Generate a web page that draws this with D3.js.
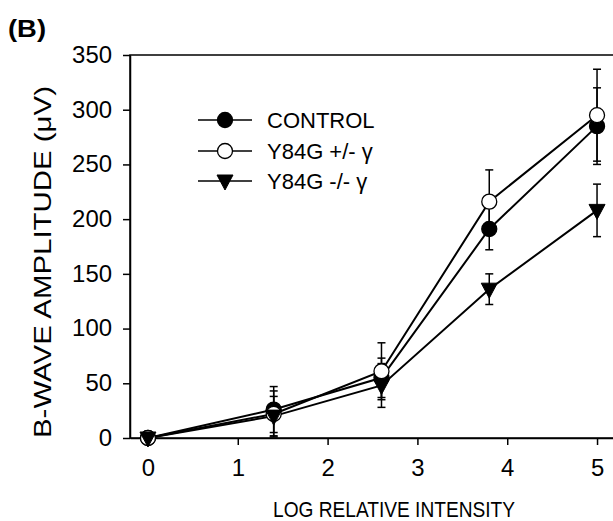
<!DOCTYPE html>
<html>
  <head>
    <meta charset="utf-8">
    <title>B-wave amplitude</title>
    <script src="https://cdn.jsdelivr.net/npm/d3@7"></script>
    <style>
      body { margin: 0; background: #fff; }
      svg { font-family: "Liberation Sans", Arial, sans-serif; }
      .axis path, .axis line { stroke: #000; stroke-width: 1.5; }
      .axis text { font-size: 23px; fill: #000; font-family: "Liberation Sans", Arial, sans-serif; }
    </style>
  </head>

  <body>
    <svg id="chart" width="613" height="521"></svg>

    <script>
      // data
      intensities = [0, 1.4, 2.6, 3.8, 5];
      xTicks = [0, 1, 2, 3, 4, 5];
      yTicks = [0, 50, 100, 150, 200, 250, 300, 350];

      controlValues = [0, 26, 55, 191, 285];
      controlErrors = [2, 21, 18, 19, 35];
      hetValues = [0, 22, 61, 216, 295];
      hetErrors = [2, 21, 26, 29, 42];
      koValues = [0, 20, 48, 136, 208];
      koErrors = [2, 18, 20, 14, 24];

      seriesNames = ["CONTROL", "Y84G +/- \u03B3", "Y84G -/- \u03B3"];

      series = [
        { name: seriesNames[0], values: controlValues, errors: controlErrors, symbol: "filled" },
        { name: seriesNames[1], values: hetValues, errors: hetErrors, symbol: "open" },
        { name: seriesNames[2], values: koValues, errors: koErrors, symbol: "triangle" }
      ];

      // elements
      chart = d3.select("#chart");

      margin = { top: 55, right: -2, bottom: 83, left: 130 };
      width = 613;
      height = 521;

      x = d3.scaleLinear()
        .domain([-0.2, 5.2])
        .range([margin.left, width - margin.right]);

      y = d3.scaleLinear()
        .domain([0, 350])
        .range([height - margin.bottom, margin.top]);

      // frame
      chart.append("rect")
        .attr("x", x(-0.2))
        .attr("y", y(350))
        .attr("width", x(5.2) - x(-0.2))
        .attr("height", y(0) - y(350))
        .style("fill", "none")
        .style("stroke", "#000")
        .style("stroke-width", 1.5);

      // axes
      chart.append("g")
        .classed("axis", true)
        .attr("transform", "translate(0, " + y(0) + ")")
        .call(d3.axisBottom(x)
          .tickValues(xTicks)
          .tickFormat(d3.format("d"))
          .tickSize(7)
          .tickPadding(15)
          .tickSizeOuter(0));

      chart.append("g")
        .classed("axis", true)
        .attr("transform", "translate(" + x(-0.2) + ", 0)")
        .call(d3.axisLeft(y)
          .tickValues(yTicks)
          .tickSize(7)
          .tickPadding(11)
          .tickSizeOuter(0));

      chart.selectAll(".axis text")
        .attr("textLength", d => String(d).length * 13.3)
        .attr("lengthAdjust", "spacingAndGlyphs");

      // axis titles
      chart.append("text")
        .attr("x", 394)
        .attr("y", 517)
        .attr("text-anchor", "middle")
        .attr("textLength", 242)
        .attr("lengthAdjust", "spacingAndGlyphs")
        .style("font-size", "22px")
        .text("LOG RELATIVE INTENSITY");

      chart.append("text")
        .attr("transform", "translate(51, 262) rotate(-90)")
        .attr("text-anchor", "middle")
        .attr("textLength", 352)
        .attr("lengthAdjust", "spacingAndGlyphs")
        .style("font-size", "24px")
        .text("B-WAVE AMPLITUDE (\u03BCV)");

      chart.append("text")
        .attr("x", 8)
        .attr("y", 37)
        .attr("textLength", 38)
        .attr("lengthAdjust", "spacingAndGlyphs")
        .style("font-size", "23px")
        .style("font-weight", "bold")
        .text("(B)");

      // marker drawing
      function drawMarker(g, symbol, cx, cy) {
        if (symbol == "triangle") {
          g.append("path")
            .attr("d", "M" + (cx - 8) + "," + (cy - 6) + "L" + (cx + 8) + "," + (cy - 6) + "L" + cx + "," + (cy + 9) + "Z")
            .style("fill", "#000")
            .style("stroke", "#000")
            .style("stroke-width", 1);
        } else {
          g.append("circle")
            .attr("cx", cx)
            .attr("cy", cy)
            .attr("r", 7.5)
            .style("fill", symbol == "open" ? "#fff" : "#000")
            .style("stroke", "#000")
            .style("stroke-width", 1.3);
        }
      }

      line = d3.line()
        .x((d, i) => x(intensities[i]))
        .y(d => y(d));

      // lines
      series.forEach(s => {
        chart.append("path")
          .datum(s.values)
          .attr("d", line)
          .style("fill", "none")
          .style("stroke", "#000")
          .style("stroke-width", 2);
      });

      // error bars
      series.forEach(s => {
        let g = chart.append("g");
        s.values.forEach((v, i) => {
          let cx = x(intensities[i]);
          g.append("line")
            .attr("x1", cx).attr("x2", cx)
            .attr("y1", y(v + s.errors[i])).attr("y2", y(v - s.errors[i]))
            .style("stroke", "#000").style("stroke-width", 1.5);
          [v + s.errors[i], v - s.errors[i]].forEach(e => {
            g.append("line")
              .attr("x1", cx - 4).attr("x2", cx + 4)
              .attr("y1", y(e)).attr("y2", y(e))
              .style("stroke", "#000").style("stroke-width", 1.5);
          });
        });
      });

      // markers
      series.forEach(s => {
        let g = chart.append("g");
        s.values.forEach((v, i) => drawMarker(g, s.symbol, x(intensities[i]), y(v)));
      });

      // legend
      legendRows = [120, 151, 181];
      series.forEach((s, i) => {
        let g = chart.append("g");
        g.append("line")
          .attr("x1", 198).attr("x2", 252)
          .attr("y1", legendRows[i]).attr("y2", legendRows[i])
          .style("stroke", "#000").style("stroke-width", 1.5);
        drawMarker(g, s.symbol, 225, legendRows[i]);
        g.append("text")
          .attr("x", 267)
          .attr("y", legendRows[i] + 8)
          .style("font-size", "22px")
          .text(s.name);
      });
    </script>
  </body>
</html>
